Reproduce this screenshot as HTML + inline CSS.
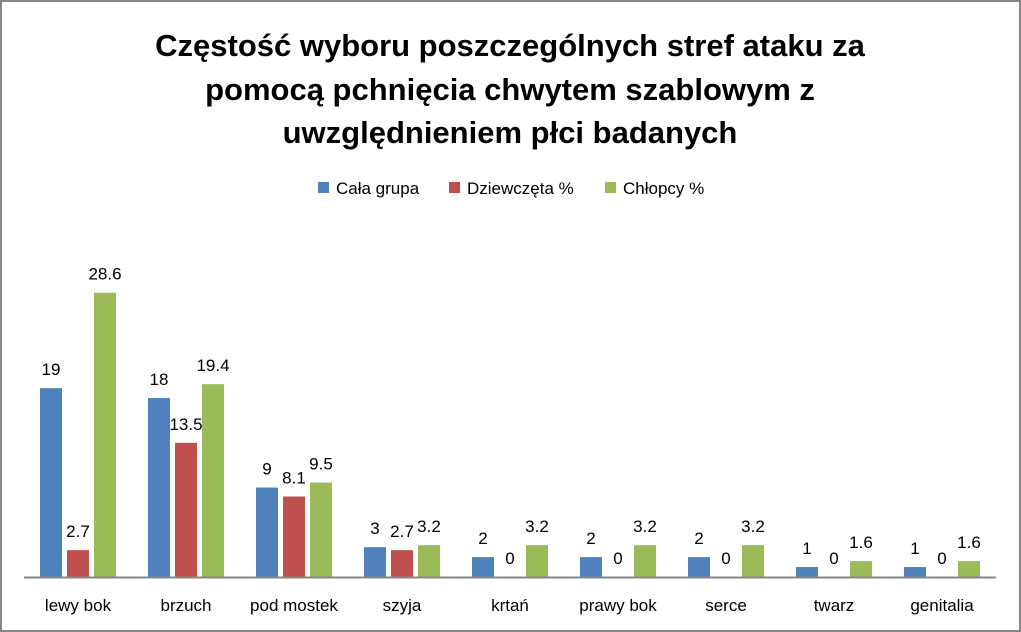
<!DOCTYPE html>
<html><head><meta charset="utf-8"><style>
body{margin:0;background:#fff}
svg{display:block;font-family:"Liberation Sans",sans-serif}
</style></head><body>
<svg id="c" width="1021" height="632">
<rect x="1" y="1" width="1019" height="630" fill="#fff" stroke="#878787" stroke-width="2"/>
<g font-weight="bold" font-size="31" text-anchor="middle" fill="#000">
<text x="510" y="56">Częstość wyboru poszczególnych stref ataku za</text>
<text x="510" y="100">pomocą pchnięcia chwytem szablowym z</text>
<text x="510" y="143">uwzględnieniem płci badanych</text>
</g>
<g font-size="17">
<g><rect x="318" y="182" width="11" height="11" fill="#4f81bd"/><text x="336" y="194">Cała grupa</text></g>
<g><rect x="449" y="182" width="11" height="11" fill="#c0504d"/><text x="467" y="194">Dziewczęta %</text></g>
<g><rect x="605" y="182" width="11" height="11" fill="#9bbb59"/><text x="623" y="194">Chłopcy %</text></g>
</g>
<g id="plot"></g>
<line x1="24" y1="577.5" x2="996" y2="577.5" stroke="#868686" stroke-width="2"/>
</svg>
<script>
const categories=["lewy bok","brzuch","pod mostek","szyja","krtań","prawy bok","serce","twarz","genitalia"];
const calaGrupa=[19,18,9,3,2,2,2,1,1];
const dziewczeta=[2.7,13.5,8.1,2.7,0,0,0,0,0];
const chlopcy=[28.6,19.4,9.5,3.2,3.2,3.2,3.2,1.6,1.6];
const seriesNames=["cala-grupa","dziewczeta","chlopcy"];
const colors=["#4f81bd","#c0504d","#9bbb59"];
const x0=24,band=108,base=577,k=9.94,bw=22,gap=5;
const yS=v=>base-v*k;
const ns="http://www.w3.org/2000/svg";
const g=document.getElementById("plot");
[calaGrupa,dziewczeta,chlopcy].forEach((s,si)=>{
 s.forEach((v,i)=>{
  const cx=x0+band*i+band/2;
  const x=cx-bw*1.5-gap+si*(bw+gap);
  const r=document.createElementNS(ns,"rect");
  r.setAttribute("x",x);r.setAttribute("y",yS(v));r.setAttribute("width",bw);r.setAttribute("height",base-yS(v));r.setAttribute("fill",colors[si]);
  
  
  g.appendChild(r);
  const t=document.createElementNS(ns,"text");
  t.setAttribute("x",x+bw/2);t.setAttribute("y",yS(v)-13);t.setAttribute("text-anchor","middle");t.setAttribute("font-size","17");
  t.textContent=String(v);
  
  
  g.appendChild(t);
 });
});
categories.forEach((c,i)=>{
 const t=document.createElementNS(ns,"text");
 t.setAttribute("x",x0+band*i+band/2);t.setAttribute("y",611);t.setAttribute("text-anchor","middle");t.setAttribute("font-size","17");
 t.textContent=c;
 
 
 g.appendChild(t);
});
</script>
</body></html>
